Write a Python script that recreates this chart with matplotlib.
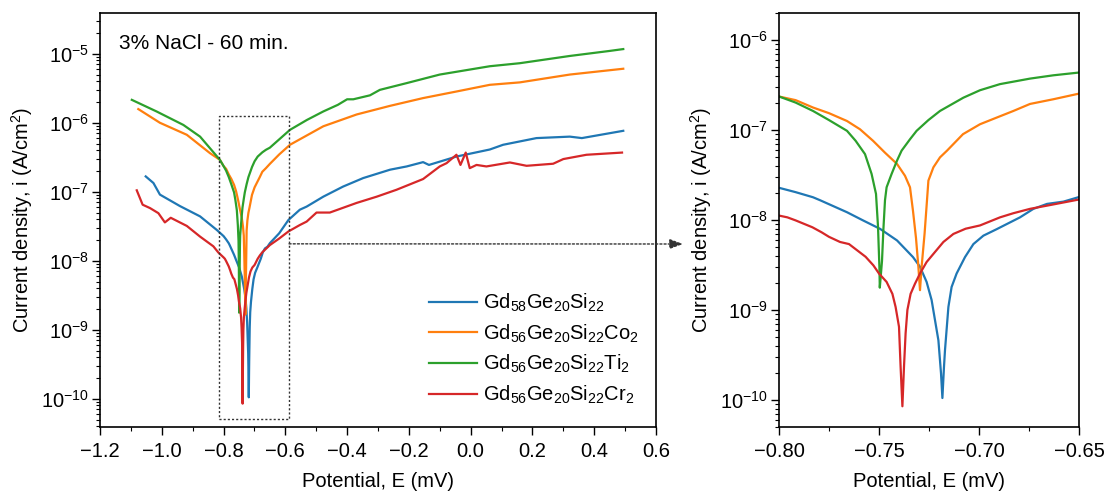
import matplotlib
matplotlib.use("Agg")
import matplotlib.pyplot as plt
from matplotlib.ticker import LogLocator, MultipleLocator, FuncFormatter, NullFormatter
from matplotlib.patches import Rectangle, ConnectionPatch

plt.rcParams['font.family'] = ['Liberation Sans', 'DejaVu Sans']
plt.rcParams['mathtext.fontset'] = 'custom'
plt.rcParams['mathtext.rm'] = 'Liberation Sans'
plt.rcParams['mathtext.it'] = 'Liberation Sans:italic'
plt.rcParams['mathtext.bf'] = 'Liberation Sans:bold'

# ---------------- data (E as labelled "mV", i in A/cm^2) ----------------
labels = ['Gd$_{58}$Ge$_{20}$Si$_{22}$',
          'Gd$_{56}$Ge$_{20}$Si$_{22}$Co$_2$',
          'Gd$_{56}$Ge$_{20}$Si$_{22}$Ti$_2$',
          'Gd$_{56}$Ge$_{20}$Si$_{22}$Cr$_2$']
colors = ['#1f77b4', '#ff7f0e', '#2ca02c', '#d62728']

E_gd58 = [-1.052, -1.027, -1.006, -0.941, -0.876, -0.822, -0.800, -0.7917, -0.783, -0.7795,
          -0.766, -0.758, -0.7495, -0.741, -0.733, -0.7295, -0.7262, -0.7237, -0.7203, -0.719,
          -0.7183, -0.7175, -0.717, -0.7153, -0.7137, -0.7112, -0.707, -0.7028, -0.6978,
          -0.6912, -0.6795, -0.6728, -0.666, -0.6578, -0.650, -0.620, -0.590, -0.553, -0.531,
          -0.477, -0.413, -0.348, -0.261, -0.207, -0.154, -0.135, -0.046, 0.062, 0.105, 0.213,
          0.321, 0.360, 0.494]
i_gd58 = [1.67e-7, 1.34e-7, 9.1e-8, 6.2e-8, 4.4e-8, 2.8e-8, 2.28e-8, 2.04e-8, 1.79e-8, 1.66e-8,
          1.22e-8, 9.9e-9, 7.98e-9, 5.93e-9, 3.87e-9, 3.02e-9, 2.05e-9, 1.29e-9, 4.6e-10, 1.98e-10,
          1.05e-10, 2.34e-10, 3.58e-10, 1.08e-9, 1.8e-9, 2.54e-9, 3.87e-9, 5.4e-9, 6.7e-9,
          7.9e-9, 1.07e-8, 1.33e-8, 1.51e-8, 1.6e-8, 1.8e-8, 2.5e-8, 3.9e-8, 5.5e-8, 6.1e-8,
          8.5e-8, 1.19e-7, 1.58e-7, 2.09e-7, 2.33e-7, 2.69e-7, 2.45e-7, 3.24e-7, 4.1e-7, 4.8e-7,
          6.0e-7, 6.3e-7, 6.0e-7, 7.65e-7]

E_co2 = [-1.076, -1.006, -0.919, -0.844, -0.812, -0.800, -0.7917, -0.783, -0.775, -0.766,
         -0.7595, -0.753, -0.747, -0.741, -0.737, -0.7345, -0.7330, -0.7315, -0.7303, -0.7295,
         -0.7287, -0.7272, -0.726, -0.7253, -0.7228, -0.7195, -0.716, -0.708, -0.6995, -0.691,
         -0.6828, -0.6745, -0.6628, -0.650, -0.620, -0.585, -0.477, -0.369, -0.261, -0.154,
         -0.046, 0.062, 0.159, 0.321, 0.494]
i_co2 = [1.58e-6, 1.0e-6, 6.7e-7, 3.63e-7, 2.91e-7, 2.36e-7, 2.15e-7, 1.78e-7, 1.54e-7, 1.26e-7,
         1.02e-7, 7.6e-8, 5.6e-8, 4.2e-8, 3.1e-8, 2.31e-8, 1.26e-8, 6.3e-9, 3.0e-9, 1.66e-9,
         3.0e-9, 7.1e-9, 1.66e-8, 2.74e-8, 3.85e-8, 4.97e-8, 5.9e-8, 9.0e-8, 1.16e-7, 1.38e-7,
         1.63e-7, 1.95e-7, 2.2e-7, 2.54e-7, 3.47e-7, 4.8e-7, 8.9e-7, 1.32e-6, 1.76e-6, 2.28e-6,
         2.84e-6, 3.55e-6, 3.85e-6, 5.0e-6, 6.07e-6]

E_ti2 = [-1.097, -1.017, -0.930, -0.876, -0.812, -0.800, -0.7917, -0.783, -0.775, -0.766,
         -0.7617, -0.757, -0.7537, -0.7515, -0.7505, -0.7498, -0.7496, -0.7485, -0.7478, -0.7470,
         -0.7462, -0.7437, -0.741, -0.7387, -0.7345, -0.7312, -0.7253, -0.7195, -0.7078, -0.6995,
         -0.6895, -0.6745, -0.6628, -0.6503, -0.585, -0.530, -0.477, -0.430, -0.400, -0.380,
         -0.326, -0.294, -0.207, -0.100, 0.062, 0.159, 0.321, 0.450, 0.494]
i_ti2 = [2.15e-6, 1.46e-6, 9.3e-7, 6.3e-7, 2.91e-7, 2.36e-7, 2.02e-7, 1.63e-7, 1.29e-7, 9.8e-8,
         7.6e-8, 5.4e-8, 3.25e-8, 1.95e-8, 8.5e-9, 3.0e-9, 1.77e-9, 3.5e-9, 7.9e-9, 1.66e-8,
         2.31e-8, 3.25e-8, 4.57e-8, 5.9e-8, 7.9e-8, 9.8e-8, 1.29e-7, 1.63e-7, 2.29e-7, 2.77e-7,
         3.24e-7, 3.73e-7, 4.06e-7, 4.35e-7, 7.9e-7, 1.1e-6, 1.46e-6, 1.82e-6, 2.19e-6, 2.19e-6,
         2.5e-6, 3.0e-6, 3.76e-6, 5.0e-6, 6.6e-6, 7.3e-6, 9.3e-6, 1.1e-5, 1.17e-5]

E_cr2 = [-1.081, -1.062, -1.038, -1.011, -0.990, -0.971, -0.919, -0.876, -0.833, -0.817,
         -0.800, -0.7958, -0.7917, -0.7833, -0.7787, -0.775, -0.7695, -0.765, -0.7567, -0.7528,
         -0.750, -0.7462, -0.7433, -0.7417, -0.740, -0.7392, -0.7383, -0.7375, -0.7367, -0.7358,
         -0.7342, -0.732, -0.7295, -0.7262, -0.7228, -0.7178, -0.7128, -0.7067, -0.6995, -0.6895,
         -0.6828, -0.6745, -0.6628, -0.650, -0.620, -0.590, -0.553, -0.531, -0.499, -0.456,
         -0.369, -0.304, -0.240, -0.154, -0.100, -0.078, -0.046, -0.033, -0.016, -0.003,
         0.019, 0.051, 0.127, 0.181, 0.267, 0.300, 0.375, 0.490]
i_cr2 = [1.05e-7, 6.5e-8, 5.8e-8, 4.9e-8, 3.6e-8, 4.2e-8, 3.2e-8, 2.24e-8, 1.62e-8, 1.32e-8,
         1.12e-8, 1.07e-8, 9.9e-9, 8.3e-9, 7.3e-9, 6.5e-9, 5.7e-9, 5.4e-9, 3.9e-9, 3.13e-9,
         2.54e-9, 2.05e-9, 1.51e-9, 1.08e-9, 6.5e-10, 2.34e-10, 8.5e-11, 2.34e-10, 5.5e-10, 1.0e-9,
         1.51e-9, 1.96e-9, 2.54e-9, 3.41e-9, 4.2e-9, 5.7e-9, 7.0e-9, 8.0e-9, 8.7e-9, 1.07e-8,
         1.19e-8, 1.33e-8, 1.49e-8, 1.69e-8, 2.1e-8, 2.66e-8, 3.3e-8, 3.7e-8, 5.0e-8, 5.0e-8,
         6.9e-8, 8.5e-8, 1.07e-7, 1.53e-7, 2.33e-7, 2.6e-7, 3.44e-7, 2.45e-7, 3.7e-7, 2.2e-7,
         2.45e-7, 2.33e-7, 2.66e-7, 2.38e-7, 2.55e-7, 2.98e-7, 3.44e-7, 3.7e-7]

series = [(E_gd58, i_gd58), (E_co2, i_co2), (E_ti2, i_ti2), (E_cr2, i_cr2)]

left_xticks = [-1.2, -1.0, -0.8, -0.6, -0.4, -0.2, 0.0, 0.2, 0.4, 0.6]
right_xticks = [-0.80, -0.75, -0.70, -0.65]
zoom_box = (-0.815, -0.588, 5.1e-11, 1.26e-6)
arrow_y = 1.76e-8
annotation = '3% NaCl - 60 min.'
xlabel = 'Potential, E (mV)'
ylabel = 'Current density, i (A/cm$^2$)'

# ---------------- figure ----------------
W, H = 1110, 497
fig = plt.figure(figsize=(W / 100, H / 100), dpi=100)
ax1 = fig.add_axes([100 / W, (H - 427) / H, 556 / W, 414 / H])
ax2 = fig.add_axes([779 / W, (H - 427) / H, 300 / W, 414 / H])


def fmt(dec):
    return FuncFormatter(lambda v, p: (f'{v:.{dec}f}').replace('-', '\u2212'))


for ax in (ax1, ax2):
    for (E, i), c, lab in zip(series, colors, labels):
        ax.plot(E, i, color=c, lw=1.6, label=lab, solid_joinstyle='round')
    ax.set_yscale('log')
    ax.yaxis.set_major_locator(LogLocator(base=10, numticks=20))
    ax.yaxis.set_minor_locator(LogLocator(base=10, subs=range(2, 10), numticks=20))
    ax.yaxis.set_minor_formatter(NullFormatter())
    ax.tick_params(which='both', direction='out', top=False, right=False, color='black')
    ax.tick_params(which='major', length=6, width=1.0)
    ax.tick_params(which='minor', length=3, width=0.8)
    ax.tick_params(axis='x', labelsize=14.5, pad=5)
    ax.tick_params(axis='y', labelsize=14.5, pad=2)
    for s in ax.spines.values():
        s.set_linewidth(1.2)
        s.set_color('black')
    ax.set_xlabel(xlabel, fontsize=14.5, labelpad=8)
    ax.set_ylabel(ylabel, fontsize=14.5, labelpad=4)

ax1.set_xlim(-1.2, 0.6)
ax1.set_ylim(3.9e-11, 3.9e-5)
ax1.set_xticks(left_xticks)
ax1.xaxis.set_minor_locator(MultipleLocator(0.1))
ax1.xaxis.set_major_formatter(fmt(1))

ax2.set_xlim(-0.80, -0.65)
ax2.set_ylim(5e-11, 2e-6)
ax2.set_xticks(right_xticks)
ax2.xaxis.set_minor_locator(MultipleLocator(0.025))
ax2.xaxis.set_major_formatter(fmt(2))

ax1.text(0.034, 0.927, annotation, transform=ax1.transAxes, fontsize=15,
         ha='left', va='center')

leg = ax1.legend(loc='upper left', bbox_to_anchor=(0.592, 0.327), frameon=False,
                 fontsize=14.5, handlelength=2.39, handletextpad=0.3,
                 labelspacing=0.42, borderaxespad=0, borderpad=0)

x0, x1, y0, y1 = zoom_box
ax1.add_patch(Rectangle((x0, y0), x1 - x0, y1 - y0, fill=False, ec='#333333',
                        lw=1.0, ls=(0, (1.5, 1.5)), zorder=5))

con = ConnectionPatch(xyA=(x1, arrow_y), coordsA=ax1.transData,
                      xyB=(683 / W, (H - 244) / H), coordsB=fig.transFigure,
                      arrowstyle='-|>,head_length=0.4,head_width=0.15',
                      mutation_scale=20, color='#333333', lw=1.0,
                      ls=(0, (1.5, 1.5)), shrinkA=0, shrinkB=0)
fig.add_artist(con)

fig.savefig('out.png', dpi=100)
